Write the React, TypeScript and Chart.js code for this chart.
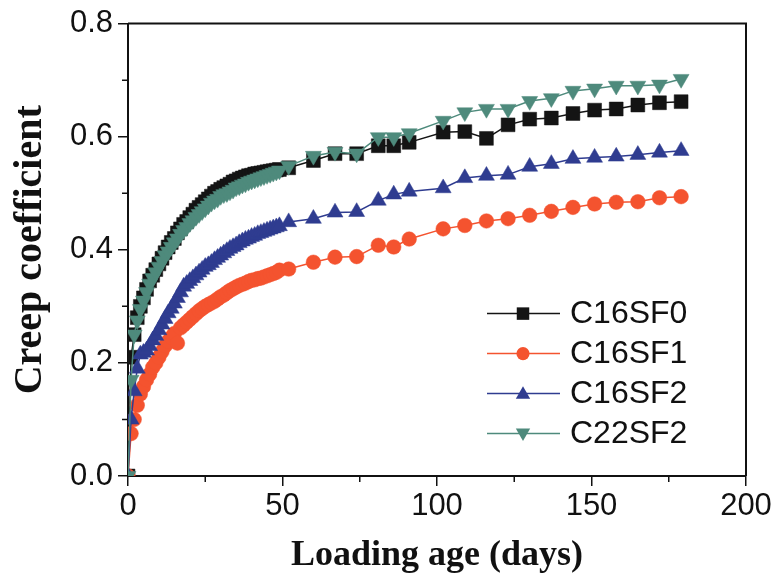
import React, { useEffect, useRef } from 'react';
import { Chart, registerables } from 'chart.js';

Chart.register(...registerables);

// Loading age (days)
const days = [
  0, 1, 2, 3, 4, 5, 6, 7, 8, 9, 10, 11, 12, 13, 14, 15, 16, 17, 18, 19,
  20, 21, 22, 23, 24, 25, 26, 27, 28, 29, 30, 31, 32, 33, 34, 35, 36, 37, 38, 39,
  40, 41, 42, 43, 44, 45, 46, 47, 48, 49,
  52, 60, 67, 74, 81, 86, 91, 102, 109, 116, 123, 130, 137, 144, 151, 158, 165, 172, 179,
];

const c16sf0 = [
  0, 0.21, 0.25, 0.28, 0.30, 0.315, 0.33, 0.345, 0.355, 0.365, 0.375, 0.385, 0.395, 0.405, 0.413, 0.42, 0.43, 0.437, 0.445, 0.45,
  0.457, 0.463, 0.47, 0.475, 0.48, 0.485, 0.49, 0.495, 0.50, 0.503, 0.507, 0.51, 0.513, 0.516, 0.52, 0.522, 0.525, 0.527, 0.529, 0.531,
  0.532, 0.534, 0.535, 0.536, 0.537, 0.538, 0.539, 0.54, 0.541, 0.542,
  0.545, 0.558, 0.57, 0.57, 0.584, 0.584, 0.59, 0.608, 0.609, 0.597, 0.621, 0.631, 0.633, 0.641, 0.647, 0.649, 0.656, 0.66, 0.662,
];

const c16sf1 = [
  0, 0.075, 0.10, 0.125, 0.145, 0.158, 0.17, 0.18, 0.192, 0.20, 0.21, 0.22, 0.23, 0.238, 0.245, 0.252, 0.235, 0.262, 0.267, 0.272,
  0.277, 0.282, 0.287, 0.292, 0.296, 0.30, 0.303, 0.306, 0.309, 0.313, 0.317, 0.32, 0.324, 0.328, 0.331, 0.334, 0.337, 0.339, 0.341, 0.344,
  0.346, 0.347, 0.349, 0.35, 0.352, 0.354, 0.356, 0.358, 0.36, 0.364,
  0.366, 0.378, 0.387, 0.388, 0.408, 0.405, 0.419, 0.437, 0.443, 0.451, 0.455, 0.461, 0.468, 0.475, 0.481, 0.484, 0.485, 0.492, 0.494,
];

const c16sf2 = [
  0, 0.10, 0.15, 0.19, 0.215, 0.218, 0.222, 0.23, 0.24, 0.248, 0.258, 0.268, 0.278, 0.288, 0.296, 0.305, 0.315, 0.325, 0.335, 0.34,
  0.345, 0.35, 0.355, 0.36, 0.365, 0.37, 0.373, 0.377, 0.382, 0.386, 0.39, 0.394, 0.398, 0.402, 0.405, 0.408, 0.412, 0.415, 0.418, 0.42,
  0.423, 0.425, 0.428, 0.43, 0.432, 0.434, 0.436, 0.438, 0.44, 0.442,
  0.449, 0.455, 0.466, 0.467, 0.487, 0.498, 0.503, 0.509, 0.527, 0.531, 0.533, 0.547, 0.552, 0.561, 0.563, 0.565, 0.568, 0.572, 0.575,
];

const c22sf2 = [
  0, 0.17, 0.25, 0.275, 0.295, 0.31, 0.325, 0.34, 0.35, 0.36, 0.37, 0.38, 0.39, 0.397, 0.405, 0.413, 0.42, 0.428, 0.435, 0.44,
  0.447, 0.452, 0.458, 0.463, 0.468, 0.473, 0.478, 0.483, 0.487, 0.49, 0.495, 0.498, 0.50, 0.503, 0.506, 0.51, 0.512, 0.515, 0.517, 0.52,
  0.522, 0.524, 0.526, 0.528, 0.53, 0.532, 0.534, 0.536, 0.538, 0.54,
  0.548, 0.566, 0.573, 0.57, 0.599, 0.599, 0.606, 0.628, 0.643, 0.649, 0.649, 0.663, 0.668, 0.681, 0.685, 0.69, 0.69, 0.692, 0.702,
];

const seriesNames = ['C16SF0', 'C16SF1', 'C16SF2', 'C22SF2'];
const seriesValues = [c16sf0, c16sf1, c16sf2, c22sf2];

const xMinorTicks = [25, 75, 125, 175];
const yMinorTicks = [0.1, 0.3, 0.5, 0.7];

const xTitle = 'Loading age (days)';
const yTitle = 'Creep coefficient';

const colors = ['#141414', '#F4532F', '#2F3C90', '#4E8A7C'];
const markers = [
  { style: 'rect', radius: 9.8, rotation: 0 },
  { style: 'circle', radius: 7.3, rotation: 0 },
  { style: 'triangle', radius: 9.2, rotation: 0 },
  { style: 'triangle', radius: 9.2, rotation: 180 },
];

const SANS = "'Liberation Sans', Arial, sans-serif";
const SERIF = "'Liberation Serif', 'Times New Roman', serif";

function drawMarker(ctx: CanvasRenderingContext2D, kind: string, r: number, rot: number, x: number, y: number) {
  ctx.beginPath();
  if (kind === 'rect') {
    const s = r * Math.SQRT1_2;
    ctx.rect(x - s, y - s, 2 * s, 2 * s);
  } else if (kind === 'circle') {
    ctx.arc(x, y, r, 0, Math.PI * 2);
  } else {
    let a = (rot * Math.PI) / 180;
    for (let k = 0; k < 3; k++) {
      const px = x + Math.sin(a) * r;
      const py = y - Math.cos(a) * r;
      if (k === 0) ctx.moveTo(px, py);
      else ctx.lineTo(px, py);
      a += (2 * Math.PI) / 3;
    }
    ctx.closePath();
  }
  ctx.fill();
}

const decorPlugin = {
  id: 'decor',
  afterDraw(chart: any) {
    const { ctx, chartArea: ca, scales } = chart;
    ctx.save();
    // frame (top and right)
    ctx.strokeStyle = '#111';
    ctx.lineWidth = 2;
    ctx.beginPath();
    ctx.moveTo(ca.left, ca.top);
    ctx.lineTo(ca.right, ca.top);
    ctx.lineTo(ca.right, ca.bottom);
    ctx.stroke();
    // minor ticks
    ctx.lineWidth = 1.5;
    ctx.beginPath();
    xMinorTicks.forEach((v) => {
      const px = scales.x.getPixelForValue(v);
      ctx.moveTo(px, ca.bottom);
      ctx.lineTo(px, ca.bottom + 6);
    });
    yMinorTicks.forEach((v) => {
      const py = scales.y.getPixelForValue(v);
      ctx.moveTo(ca.left, py);
      ctx.lineTo(ca.left - 6, py);
    });
    ctx.stroke();
    // legend
    const lx = ca.left + 359;
    const ly = ca.top + 290;
    seriesNames.forEach((name, i) => {
      const y = ly + i * 40;
      ctx.strokeStyle = colors[i];
      ctx.fillStyle = colors[i];
      ctx.lineWidth = 1.5;
      ctx.beginPath();
      ctx.moveTo(lx, y);
      ctx.lineTo(lx + 73, y);
      ctx.stroke();
      const m = markers[i];
      drawMarker(ctx, m.style, m.radius * 0.9, m.rotation, lx + 36, y + (m.style === 'triangle' ? (m.rotation ? -1 : 1) : 0));
      ctx.fillStyle = '#111';
      ctx.font = `32px ${SANS}`;
      ctx.textBaseline = 'middle';
      ctx.textAlign = 'left';
      ctx.fillText(name, lx + 83, y + 1);
    });
    ctx.restore();
  },
};

export default function App() {
  const ref = useRef<HTMLCanvasElement>(null);

  useEffect(() => {
    if (!ref.current) return;
    const datasets = seriesNames.map((name, i) => ({
      label: name,
      data: days.map((d, j) => ({ x: d, y: seriesValues[i][j] })),
      borderColor: colors[i],
      backgroundColor: colors[i],
      borderWidth: 1.5,
      pointStyle: markers[i].style as any,
      pointRotation: markers[i].rotation,
      pointRadius: markers[i].radius,
      pointBackgroundColor: colors[i],
      pointBorderColor: colors[i],
      pointBorderWidth: 0.5,
      order: 4 - i,
      tension: 0,
    }));

    const chart = new Chart(ref.current, {
      type: 'line',
      data: { datasets },
      options: {
        responsive: false,
        animation: false,
        events: [],
        layout: { padding: { top: 23, right: 31, left: 0, bottom: 0 } },
        plugins: {
          legend: { display: false },
          tooltip: { enabled: false },
          title: { display: false },
        },
        scales: {
          x: {
            type: 'linear',
            min: 0,
            max: 200,
            border: { display: true, color: '#111', width: 2 },
            grid: { display: true, drawOnChartArea: false, drawTicks: true, tickLength: 10, color: '#111', lineWidth: 1.5 },
            ticks: { stepSize: 50, color: '#111', font: { family: SANS, size: 31 }, padding: 2, maxRotation: 0 },
            title: {
              display: true,
              text: xTitle,
              color: '#111',
              font: { family: SERIF, size: 36, weight: 'bold' },
              padding: { top: 0, bottom: 6 },
            },
            afterFit: (s: any) => {
              s.height = 107;
            },
          },
          y: {
            type: 'linear',
            min: 0,
            max: 0.8,
            border: { display: true, color: '#111', width: 2 },
            grid: { display: true, drawOnChartArea: false, drawTicks: true, tickLength: 10, color: '#111', lineWidth: 1.5 },
            ticks: {
              stepSize: 0.2,
              color: '#111',
              font: { family: SANS, size: 31 },
              padding: 5,
              callback: (v: any) => Number(v).toFixed(1),
            },
            title: {
              display: true,
              text: yTitle,
              color: '#111',
              font: { family: SERIF, size: 40, weight: 'bold' },
              padding: { top: 7, bottom: 0 },
            },
            afterFit: (s: any) => {
              s.width = 128;
            },
          },
        },
      },
      plugins: [decorPlugin],
    });
    return () => chart.destroy();
  }, []);

  return (
    <div style={{ position: 'absolute', left: 0, top: 0, width: 777, height: 583, background: '#fff' }}>
      <canvas ref={ref} width={777} height={583} style={{ display: 'block' }} />
    </div>
  );
}
